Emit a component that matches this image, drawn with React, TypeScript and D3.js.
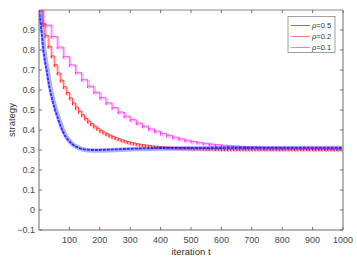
import { useRef, useEffect } from 'react';
import * as d3 from 'd3';

// rho = 0.1 : plateau start times and values
const magentaT = [0, 14, 40, 60, 80, 100, 120, 140, 160, 180, 200, 220, 240, 260, 280, 300, 320, 340, 360, 380,
  400, 420, 440, 460, 480, 500, 520, 540, 560, 580, 600, 620, 640, 660, 680, 700, 720, 740, 760, 780,
  800, 820, 840, 860, 880, 900, 920, 940, 960, 980];
const magentaV = [1.0, 0.925, 0.868, 0.815, 0.768, 0.726, 0.688, 0.652, 0.62, 0.59, 0.562, 0.536, 0.512, 0.49, 0.47,
  0.452, 0.435, 0.42, 0.406, 0.394, 0.383, 0.373, 0.364, 0.356, 0.349, 0.343, 0.338, 0.334, 0.33, 0.327,
  0.324, 0.322, 0.32, 0.318, 0.316, 0.315, 0.314, 0.313, 0.312, 0.311, 0.31, 0.31, 0.309, 0.309, 0.309,
  0.308, 0.308, 0.308, 0.308, 0.308];

// rho = 0.2 : plateau values every 10 iterations
const redV = [1.0, 0.934, 0.874, 0.82, 0.771, 0.727, 0.686, 0.65, 0.617, 0.588,
  0.561, 0.536, 0.514, 0.495, 0.477, 0.46, 0.445, 0.432, 0.42, 0.409,
  0.399, 0.39, 0.382, 0.375, 0.368, 0.362, 0.356, 0.351, 0.346, 0.342,
  0.338, 0.335, 0.332, 0.329, 0.327, 0.325, 0.323, 0.321, 0.319, 0.318,
  0.317, 0.316, 0.315, 0.314, 0.313, 0.312, 0.312, 0.311, 0.311, 0.31,
  0.31, 0.309, 0.309, 0.309, 0.308, 0.308, 0.308, 0.308, 0.307, 0.307,
  0.306, 0.306, 0.306, 0.306, 0.306, 0.306, 0.306, 0.306, 0.306, 0.306,
  0.306, 0.306, 0.306, 0.306, 0.306, 0.306, 0.306, 0.306, 0.306, 0.306,
  0.306, 0.306, 0.306, 0.306, 0.306, 0.306, 0.306, 0.306, 0.306, 0.306,
  0.306, 0.306, 0.306, 0.306, 0.306, 0.306, 0.306, 0.306, 0.306, 0.306];
const redT = d3.range(0, 1000, 10);

// rho = 0.5
const blueT = [0, 4, 8, 14, 20, 25, 30, 36, 44, 53, 64, 76, 86, 96, 108, 120, 135, 150, 170, 200, 250, 300, 400, 500, 1000];
const blueV = [1.0, 0.95, 0.9, 0.8, 0.74, 0.7, 0.65, 0.6, 0.55, 0.5, 0.45, 0.4, 0.37, 0.35, 0.33, 0.318, 0.308, 0.303,
  0.3, 0.3, 0.303, 0.306, 0.31, 0.311, 0.312];

const xTicks = [100, 200, 300, 400, 500, 600, 700, 800, 900, 1000];
const yTicks = [-0.1, 0, 0.1, 0.2, 0.3, 0.4, 0.5, 0.6, 0.7, 0.8, 0.9];
const legendLabels = ['0.5', '0.2', '0.1'];
const legendColors = ['#6b6bff', '#ff7a7a', '#ff6bff'];

type Pt = [number, number];

function stepPoints(ts: number[], vs: number[], dip: number, tEnd: number): Pt[] {
  const pts: Pt[] = [[ts[0], vs[0]]];
  for (let k = 1; k < ts.length; k++) {
    pts.push([ts[k], vs[k - 1]]);
    pts.push([ts[k], vs[k] - dip]);
    pts.push([ts[k], vs[k]]);
  }
  pts.push([tEnd, vs[vs.length - 1]]);
  return pts;
}

function Chart({ width = 357, height = 268 }) {
  const svgRef = useRef<SVGSVGElement>(null);

  useEffect(() => {
    if (!svgRef.current) return;
    const svg = d3.select(svgRef.current);
    svg.selectAll('*').remove();
    svg.attr('width', width).attr('height', height);

    const left = 39, right = 343, top = 10, bottom = 230;
    const x = d3.scaleLinear().domain([0, 1000]).range([left, right]);
    const y = d3.scaleLinear().domain([-0.1, 1]).range([bottom, top]);
    const font = 'Liberation Sans, Arial, sans-serif';

    svg.append('rect').attr('width', width).attr('height', height).attr('fill', '#fff');

    svg.append('defs').append('clipPath').attr('id', 'plot-clip')
      .append('rect').attr('x', left).attr('y', top).attr('width', right - left).attr('height', bottom - top);

    const plot = svg.append('g').attr('clip-path', 'url(#plot-clip)');
    const line = d3.line<Pt>().x((d) => x(d[0])).y((d) => y(d[1]));

    const magenta = stepPoints(magentaT, magentaV, 0.01, 1000);
    const red = stepPoints(redT, redV, 0.012, 1000);
    const blue: Pt[] = blueT.map((t, i) => [t, blueV[i]]);

    // magenta
    plot.append('path').datum(magenta).attr('d', line).attr('fill', 'none')
      .attr('stroke', '#ff00ff').attr('stroke-opacity', 0.25).attr('stroke-width', 1.8)
      .attr('transform', 'translate(1.5,1)');
    plot.append('path').datum(magenta).attr('d', line).attr('fill', 'none')
      .attr('stroke', '#ff00ff').attr('stroke-opacity', 0.6).attr('stroke-width', 1);

    // red
    plot.append('path').datum(red).attr('d', line).attr('fill', 'none')
      .attr('stroke', '#ff0000').attr('stroke-opacity', 0.25).attr('stroke-width', 1.8)
      .attr('transform', 'translate(1.2,1)');
    plot.append('path').datum(red).attr('d', line).attr('fill', 'none')
      .attr('stroke', '#ff0000').attr('stroke-opacity', 0.6).attr('stroke-width', 1);

    // blue
    plot.append('path').datum(blue).attr('d', line).attr('fill', 'none')
      .attr('stroke', '#5050ff').attr('stroke-opacity', 0.45).attr('stroke-width', 4.5)
      .attr('transform', 'translate(1,0.5)');
    plot.append('path').datum(blue).attr('d', line).attr('fill', 'none')
      .attr('stroke', '#0000ff').attr('stroke-opacity', 0.75).attr('stroke-width', 1.8)
      .attr('stroke-dasharray', '3,1');

    // box
    const axisCol = '#6e6e6e';
    svg.append('line').attr('x1', left).attr('x2', right).attr('y1', bottom).attr('y2', bottom).attr('stroke', axisCol);
    svg.append('line').attr('x1', left).attr('x2', left).attr('y1', top).attr('y2', bottom).attr('stroke', axisCol);
    svg.append('line').attr('x1', left).attr('x2', right).attr('y1', top).attr('y2', top).attr('stroke', '#8a8a8a');
    svg.append('line').attr('x1', right).attr('x2', right).attr('y1', top).attr('y2', bottom)
      .attr('stroke', '#b4b4b4').attr('stroke-width', 2);

    // ticks
    xTicks.forEach((t) => {
      svg.append('line').attr('x1', x(t)).attr('x2', x(t)).attr('y1', bottom).attr('y2', bottom - 3).attr('stroke', axisCol);
      svg.append('line').attr('x1', x(t)).attr('x2', x(t)).attr('y1', top).attr('y2', top + 3).attr('stroke', axisCol);
      svg.append('text').attr('x', x(t)).attr('y', bottom + 13).attr('text-anchor', 'middle')
        .attr('font-family', font).attr('font-size', 9).attr('fill', '#484848').text(t);
    });
    yTicks.forEach((v) => {
      svg.append('line').attr('x1', left).attr('x2', left + 3).attr('y1', y(v)).attr('y2', y(v)).attr('stroke', axisCol);
      svg.append('line').attr('x1', right).attr('x2', right - 3).attr('y1', y(v)).attr('y2', y(v)).attr('stroke', axisCol);
      svg.append('text').attr('x', left - 4).attr('y', y(v) + 3).attr('text-anchor', 'end')
        .attr('font-family', font).attr('font-size', 9).attr('fill', '#484848').text(d3.format('.1~f')(v));
    });

    // axis labels
    svg.append('text').attr('x', (left + right) / 2).attr('y', bottom + 25).attr('text-anchor', 'middle')
      .attr('font-family', font).attr('font-size', 9.5).attr('fill', '#303030').text('iteration t');
    svg.append('text').attr('transform', `translate(15,${(top + bottom) / 2}) rotate(-90)`)
      .attr('text-anchor', 'middle').attr('font-family', font).attr('font-size', 9.5).attr('fill', '#303030')
      .text('strategy');

    // legend
    const lg = svg.append('g');
    lg.append('rect').attr('x', 288).attr('y', 16.5).attr('width', 47).attr('height', 36)
      .attr('fill', '#fff').attr('stroke', '#8a8a8a').attr('stroke-width', 0.8);
    legendLabels.forEach((lab, i) => {
      const yy = 25.5 + i * 11;
      lg.append('line').attr('x1', 291).attr('x2', 310).attr('y1', yy).attr('y2', yy)
        .attr('stroke', legendColors[i]).attr('stroke-width', 1);
      const tx = lg.append('text').attr('x', 312).attr('y', yy + 2.8)
        .attr('font-family', font).attr('font-size', 7.5).attr('fill', '#303030');
      tx.append('tspan').attr('font-style', 'italic').text('ρ');
      tx.append('tspan').text('=' + lab);
    });
  }, [width, height]);

  return <svg ref={svgRef} style={{ display: 'block' }} />;
}

export default function App() {
  return (
    <div style={{ position: 'fixed', left: 0, top: 0 }}>
      <Chart />
    </div>
  );
}
